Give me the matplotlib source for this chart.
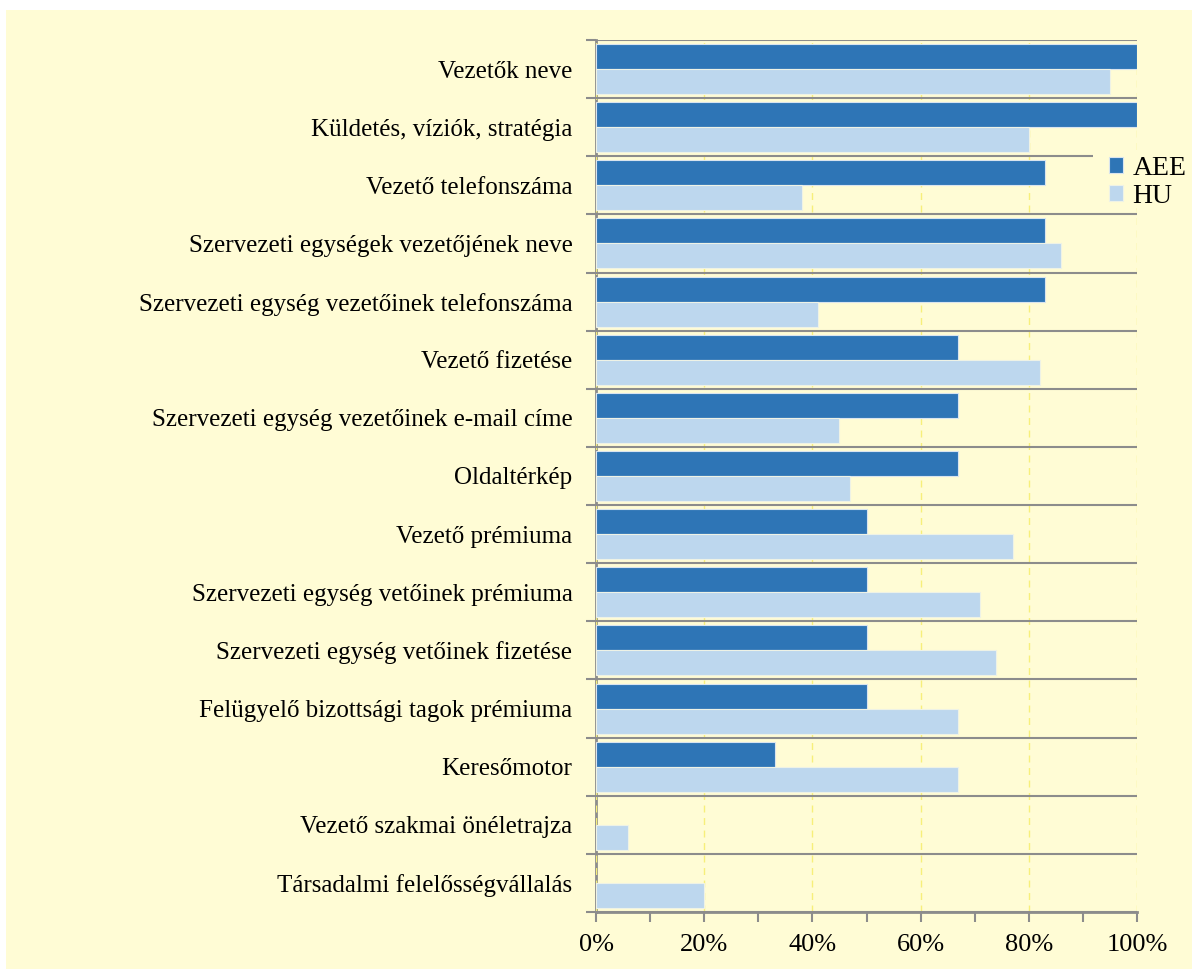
import matplotlib.pyplot as plt
from matplotlib.patches import Rectangle
from matplotlib.ticker import MultipleLocator, PercentFormatter
import numpy as np

plt.rcParams['font.family'] = ['Liberation Serif', 'DejaVu Serif']

categories = ['Vezetők neve', 'Küldetés, víziók, stratégia', 'Vezető telefonszáma',
              'Szervezeti egységek vezetőjének neve',
              'Szervezeti egység vezetőinek telefonszáma', 'Vezető fizetése',
              'Szervezeti egység vezetőinek e-mail címe', 'Oldaltérkép',
              'Vezető prémiuma', 'Szervezeti egység vetőinek prémiuma',
              'Szervezeti egység vetőinek fizetése',
              'Felügyelő bizottsági tagok prémiuma', 'Keresőmotor',
              'Vezető szakmai önéletrajza', 'Társadalmi felelősségvállalás']
aee = [100, 100, 83, 83, 83, 67, 67, 67, 50, 50, 50, 50, 33, 0, 0]
hu = [95, 80, 38, 86, 41, 82, 45, 47, 77, 71, 74, 67, 67, 6, 20]

bg = '#FFFCD5'
grey = '#8C8C8C'

fig = plt.figure(figsize=(11.92, 9.69), dpi=100, facecolor='white')
fig.patches.append(Rectangle((6 / 1192, 0), 1 - 6 / 1192, 1 - 10 / 969,
                             transform=fig.transFigure, facecolor=bg,
                             edgecolor='none', zorder=-10))
ax = fig.add_axes([596 / 1192, 1 - 912 / 969, 541 / 1192, 872 / 969])
ax.set_facecolor(bg)

y = np.arange(len(categories))
h = 0.43
ax.barh(y - h / 2, aee, height=h, color='#2E75B6', edgecolor='#D9E4EE',
        linewidth=[0.8 if v > 0 else 0 for v in aee], label='AEE', zorder=3)
ax.barh(y + h / 2, hu, height=h, color='#BDD7EE', edgecolor='#EEF2E6',
        linewidth=[0.8 if v > 0 else 0 for v in hu], label='HU', zorder=3)

ax.set_ylim(len(categories) - 0.5, -0.5)
ax.set_xlim(0, 100)
ax.set_yticks(y)
ax.set_yticklabels(categories, fontsize=18)
ax.set_yticks(np.arange(-0.5, len(categories), 1), minor=True)
ax.tick_params(axis='y', which='major', length=0, pad=17)
ax.tick_params(axis='y', which='minor', length=7, width=1.5, color=grey)
ax.grid(axis='y', which='minor', color=grey, linewidth=1.5, zorder=1)

ax.xaxis.set_major_locator(MultipleLocator(20))
ax.xaxis.set_minor_locator(MultipleLocator(10))
ax.xaxis.set_major_formatter(PercentFormatter(decimals=0))
ax.tick_params(axis='x', which='both', length=7, width=1.5, color=grey,
               labelsize=19, pad=9)
ax.grid(axis='x', which='major', color='#F7EF7A', linestyle=(0, (5, 4)),
        linewidth=1, zorder=1)

for s in ['top', 'right']:
    ax.spines[s].set_visible(False)
ax.spines['left'].set_color(grey)
ax.spines['left'].set_linewidth(2)
ax.spines['bottom'].set_color(grey)
ax.spines['bottom'].set_linewidth(2)
ax.set_axisbelow(False)

# legend sits on a yellow box that hides the grid line behind it
fig.patches.append(Rectangle((1093 / 1192, 1 - 208 / 969), 99 / 1192, 58 / 969,
                             transform=fig.transFigure, facecolor=bg,
                             edgecolor='none', zorder=4))
handles, labels = ax.get_legend_handles_labels()
leg = fig.legend(handles, labels, loc='upper left',
                 bbox_to_anchor=(1106 / 1192, 1 - 153 / 969),
                 frameon=False, fontsize=20,
                 handlelength=0.5, handleheight=0.5, handletextpad=0.35,
                 labelspacing=0.1, borderaxespad=0, borderpad=0.1)
leg.set_zorder(6)

fig.savefig('out.png', dpi=100, facecolor='white')
